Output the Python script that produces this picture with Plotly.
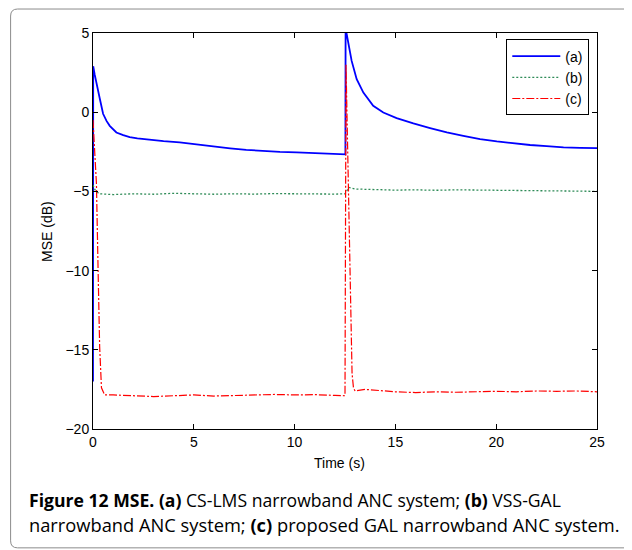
import plotly.graph_objects as go

# (a) CS-LMS
t_a = [0.0, 0.01, 0.08, 0.17, 0.25, 0.33, 0.5, 0.67, 0.83, 1.0, 1.16, 1.5, 1.82, 2.2, 2.65, 3.5,
       4.3, 5.1, 5.96, 6.8, 7.6, 8.4, 9.27, 10.1, 10.9, 11.7, 12.4, 12.52, 12.53, 12.66, 12.83,
       13.08, 13.41, 13.9, 14.4, 15.06, 15.89, 16.72, 17.55, 18.37, 19.2, 20.03, 20.85, 21.68,
       22.5, 23.34, 24.17, 25.0]
mse_a = [-17.0, 2.9, 2.4, 1.9, 1.5, 0.9, -0.1, -0.55, -0.86, -1.1, -1.28, -1.45, -1.58, -1.65,
         -1.72, -1.82, -1.9, -2.03, -2.15, -2.28, -2.38, -2.45, -2.5, -2.53, -2.57, -2.6, -2.64,
         -2.66, 5.3, 4.5, 3.24, 2.08, 1.24, 0.4, -0.02, -0.37, -0.71, -1.0, -1.28, -1.49, -1.7,
         -1.84, -1.97, -2.07, -2.14, -2.22, -2.25, -2.27]

# (b) VSS-GAL
t_b = [0.0, 0.1, 0.3, 1, 2, 3, 4, 5, 6, 7, 8, 9, 10, 11, 12, 12.5, 12.7, 13, 14, 15, 16, 17,
       18, 19, 20, 21, 22, 23, 24, 25]
mse_b = [-4.6, -4.9, -5.15, -5.2, -5.15, -5.18, -5.12, -5.15, -5.18, -5.15, -5.17, -5.14, -5.16,
         -5.15, -5.17, -5.15, -4.75, -4.85, -4.9, -4.92, -4.9, -4.93, -4.9, -4.92, -4.95, -4.93,
         -4.95, -4.97, -4.98, -5.0]

# (c) proposed GAL
t_c = [0.0, 0.1, 0.17, 0.25, 0.33, 0.42, 0.58, 1, 2, 3, 4, 5, 6, 7, 8, 9, 10, 11, 12, 12.5,
       12.55, 12.62, 12.7, 12.78, 12.85, 12.92, 13.0, 13.5, 14, 15, 16, 17, 18, 19, 20, 21, 22,
       23, 24, 25]
mse_c = [-0.5, -2.5, -4.5, -9.8, -14.8, -17.4, -17.85, -17.85, -17.9, -17.95, -17.9, -17.85,
         -17.92, -17.88, -17.85, -17.82, -17.85, -17.83, -17.88, -17.9, 3.0, -2.0, -8.0, -13.5,
         -16.5, -17.4, -17.6, -17.5, -17.55, -17.65, -17.7, -17.65, -17.68, -17.65, -17.62,
         -17.65, -17.6, -17.62, -17.6, -17.65]

x_ticks = [0, 5, 10, 15, 20, 25]
y_ticks = [-20, -15, -10, -5, 0, 5]

FONT = "Liberation Sans, Arial, Helvetica, sans-serif"
CAP_FONT = "Open Sans, Noto Sans, sans-serif"

fig = go.Figure()
fig.add_trace(go.Scatter(x=t_a, y=mse_a, mode="lines", name="(a)",
                         line=dict(color="#0000ff", width=1.8)))
fig.add_trace(go.Scatter(x=t_b, y=mse_b, mode="lines", name="(b)",
                         line=dict(color="#2e8b57", width=1.3, dash="2px,2px")))
fig.add_trace(go.Scatter(x=t_c, y=mse_c, mode="lines", name="(c)",
                         line=dict(color="#ff0000", width=1.2, dash="8px,2px,2px,2px")))

# page body has an 8px margin: work in screen coordinates and shift
OFF = 8
W, H = 632, 550
SX0, SX1, SY0, SY1 = 93.3, 596.7, 32.5, 429.0  # plot area on screen
L = SX0 - OFF
T = SY0 - OFF
R = W - (SX1 - OFF)
B = H - (SY1 - OFF)
pw, ph = W - L - R, H - T - B

def px(x):
    return (x - OFF - L) / pw

def py(y):
    return (H - B - (y - OFF)) / ph

fig.update_layout(
    width=W, height=H,
    margin=dict(l=L, r=R, t=T, b=B, autoexpand=False),
    paper_bgcolor="white", plot_bgcolor="white",
    font=dict(family=FONT, size=14, color="black"),
    showlegend=True,
    legend=dict(x=px(589), y=py(39), xanchor="right", yanchor="top",
                bordercolor="black", borderwidth=1, bgcolor="white",
                font=dict(family=FONT, size=14), tracegroupgap=0,
                itemwidth=48),
)
axis_common = dict(showline=True, linecolor="black", linewidth=1, mirror="ticks",
                   ticks="inside", ticklen=5, tickcolor="black", showgrid=False,
                   zeroline=False, tickfont=dict(family=FONT, size=14))
fig.update_xaxes(range=[0, 25], tickvals=x_ticks, **axis_common)
fig.update_yaxes(range=[-20, 5], tickvals=y_ticks, **axis_common)

# axis titles
fig.add_annotation(x=px(340), y=py(463), xref="paper", yref="paper", text="Time (s)",
                   showarrow=False, font=dict(family=FONT, size=14), xanchor="center",
                   yanchor="middle")
fig.add_annotation(x=px(48), y=py(231), xref="paper", yref="paper", text="MSE (dB)",
                   showarrow=False, font=dict(family=FONT, size=14), textangle=-90,
                   xanchor="center", yanchor="middle")

# caption
cap1 = "<b>Figure 12 MSE.</b> <b>(a)</b> CS-LMS narrowband ANC system; <b>(b)</b> VSS-GAL"
cap2 = "narrowband ANC system; <b>(c)</b> proposed GAL narrowband ANC system."
fig.add_annotation(x=px(27), y=py(500), xref="paper", yref="paper", text=cap1,
                   showarrow=False, font=dict(family=CAP_FONT, size=17.6), xanchor="left",
                   yanchor="middle")
fig.add_annotation(x=px(27), y=py(525), xref="paper", yref="paper", text=cap2,
                   showarrow=False, font=dict(family=CAP_FONT, size=18.3), xanchor="left",
                   yanchor="middle")

# rounded frame
x0, y0, x1, y1, r = 11, 8.5, 660, 548, 7
path = (f"M{px(x1)},{py(y0)} L{px(x0 + r)},{py(y0)} Q{px(x0)},{py(y0)} {px(x0)},{py(y0 + r)} "
        f"L{px(x0)},{py(y1 - r)} Q{px(x0)},{py(y1)} {px(x0 + r)},{py(y1)} L{px(x1)},{py(y1)}")
fig.add_shape(type="path", path=path, xref="paper", yref="paper",
              line=dict(color="#8c8c8c", width=1), layer="below")

fig.write_html("out.html")
